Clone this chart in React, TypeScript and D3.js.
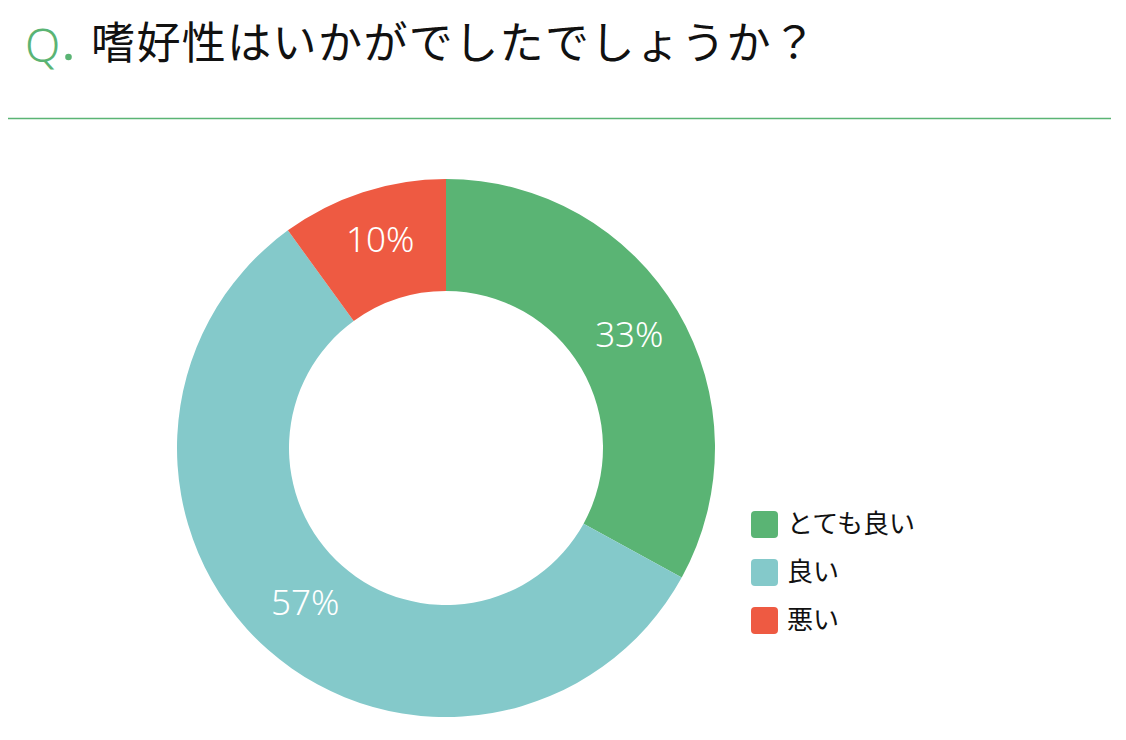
import React from "react";
import * as d3 from "d3";

const categories = ["とても良い", "良い", "悪い"];
const values = [33, 57, 10];
const colors = ["#5ab474", "#84c9ca", "#ee5a42"];
const title = "嗜好性はいかがでしたでしょうか？";

export default function App() {
  const width = 1126;
  const height = 740;
  const cx = 446;
  const cy = 448;
  const outerR = 269;
  const innerR = 157;
  const pie = d3.pie<number>().sort(null).value((d) => d);
  const arcs = pie(values);
  const arc = d3.arc<d3.PieArcDatum<number>>().innerRadius(innerR).outerRadius(outerR);
  const labelArc = d3
    .arc<d3.PieArcDatum<number>>()
    .innerRadius((innerR + outerR) / 2)
    .outerRadius((innerR + outerR) / 2);
  const legendY = d3.scaleBand<string>().domain(categories).range([500, 644]).padding(0);

  return (
    <svg
      width={width}
      height={height}
      style={{ position: "absolute", left: 0, top: 0, background: "#fff" }}
      fontFamily="'Noto Sans CJK JP', 'Noto Sans', sans-serif"
    >
      <text x={25} y={62} fontSize={46} fill="#5ab474" fontFamily="'Noto Sans', sans-serif" fontWeight={300}>
        Q
      </text>
      <circle cx={68.5} cy={57} r={3.3} fill="#5ab474" />
      <text x={91} y={59} fontSize={44} fill="#111" letterSpacing={1.4}>
        {title}
      </text>
      <line x1={8} x2={1111} y1={118.5} y2={118.5} stroke="#5ab474" strokeWidth={1.5} />
      <g transform={`translate(${cx},${cy})`}>
        {arcs.map((a, i) => (
          <path key={i} d={arc(a) || ""} fill={colors[i]} />
        ))}
        {arcs.map((a, i) => {
          const [x, y] = labelArc.centroid(a);
          return (
            <text
              key={"l" + i}
              x={x}
              y={y}
              dy="0.2em"
              textAnchor="middle"
              fontSize={35}
              fill="#fff"
              fontFamily="'Noto Sans', sans-serif"
              fontWeight={300}
            >
              {values[i]}%
            </text>
          );
        })}
      </g>
      {categories.map((c, i) => {
        const y = (legendY(c) as number) + legendY.bandwidth() / 2;
        return (
          <g key={c}>
            <rect x={751} y={y - 13} width={27} height={27} rx={4} fill={colors[i]} />
            <text x={787} y={y} dy="0.36em" fontSize={26} fill="#111">
              {c}
            </text>
          </g>
        );
      })}
    </svg>
  );
}
